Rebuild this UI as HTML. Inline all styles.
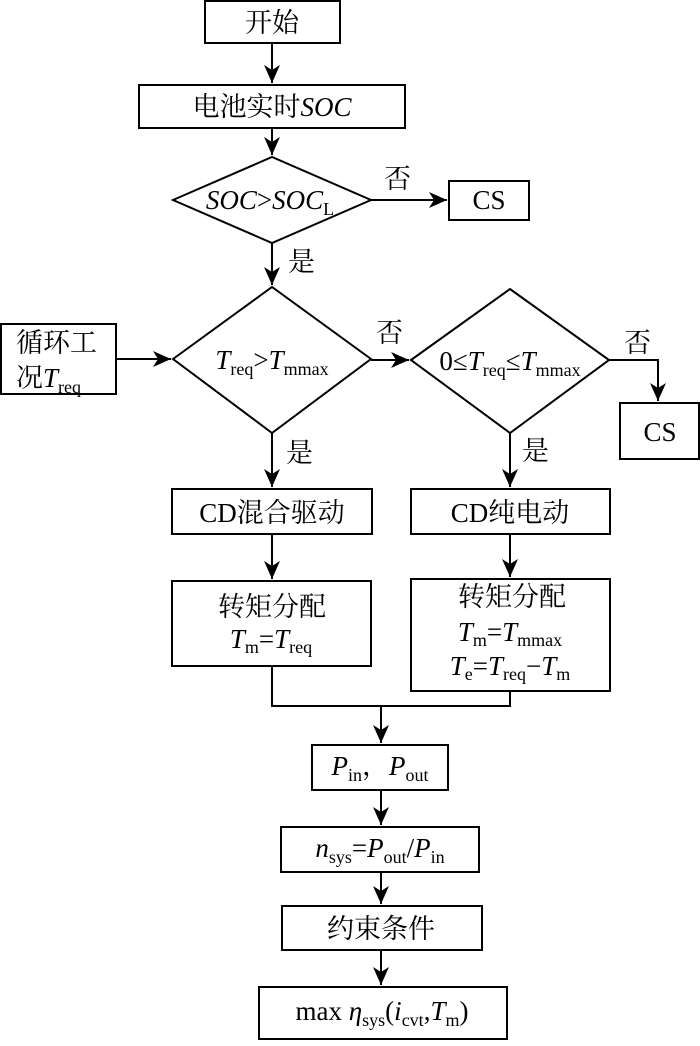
<!DOCTYPE html>
<html><head><meta charset="utf-8"><style>
html,body{margin:0;padding:0;background:#fff}
svg text{font-family:"Liberation Serif","Noto Serif CJK SC","Noto Sans CJK SC",serif;font-size:27px;fill:#000}
.i{font-style:italic}
.s{font-size:18px}
</style></head><body>
<svg width="700" height="1041" viewBox="0 0 700 1041" xmlns="http://www.w3.org/2000/svg">
<defs><marker id="a" markerWidth="20" markerHeight="20" refX="18" refY="8" orient="auto" markerUnits="userSpaceOnUse"><path d="M0,0 L18,8 L0,16 L5,8 Z" fill="#000"/></marker></defs>
<g fill="none" stroke="#000" stroke-width="2">
<rect x="205" y="1" width="135" height="42"/>
<rect x="139" y="85" width="266" height="43"/>
<polygon points="173,200 272,157 371,200 272,243"/>
<rect x="449" y="181" width="80" height="39"/>
<polygon points="173,359 272,287 371,359 272,433"/>
<rect x="1" y="324" width="115" height="70"/>
<polygon points="411,360 510,289 609,360 510,433"/>
<rect x="620" y="403" width="79" height="56"/>
<rect x="172" y="489" width="200" height="45"/>
<rect x="411" y="489" width="199" height="45"/>
<rect x="172" y="581" width="199" height="85"/>
<rect x="411" y="579" width="199" height="112"/>
<rect x="312" y="745" width="136" height="45"/>
<rect x="281" y="827" width="198" height="45"/>
<rect x="282" y="906" width="200" height="44"/>
<rect x="259" y="987" width="248" height="52"/>
<g marker-end="url(#a)">
<line x1="272" y1="43" x2="272" y2="83"/>
<line x1="272" y1="128" x2="272" y2="155"/>
<line x1="371" y1="200" x2="447" y2="200"/>
<line x1="272" y1="243" x2="272" y2="285"/>
<line x1="116" y1="359" x2="171" y2="359"/>
<line x1="371" y1="360" x2="409" y2="360"/>
<polyline points="609,360 658,360 658,401"/>
<line x1="272" y1="433" x2="272" y2="487"/>
<line x1="510" y1="433" x2="510" y2="487"/>
<line x1="272" y1="534" x2="272" y2="579"/>
<line x1="510" y1="534" x2="510" y2="577"/>
<line x1="381" y1="706" x2="381" y2="743"/>
<line x1="381" y1="790" x2="381" y2="825"/>
<line x1="381" y1="872" x2="381" y2="904"/>
<line x1="381" y1="950" x2="381" y2="985"/>
</g>
<polyline points="272,666 272,706 510,706 510,691"/>
</g>
<text x="272" y="32" text-anchor="middle">开始</text>
<text x="272" y="116" text-anchor="middle">电池实时<tspan class="i">SOC</tspan></text>
<text x="270" y="209" text-anchor="middle"><tspan class="i">SOC</tspan>&gt;<tspan class="i">SOC</tspan><tspan class="s" dy="6">L</tspan></text>
<text x="384" y="188">否</text>
<text x="489" y="209" text-anchor="middle">CS</text>
<text x="288" y="271">是</text>
<text x="16" y="352">循环工</text>
<text x="16" y="387">况<tspan class="i">T</tspan><tspan class="s" dy="6">req</tspan></text>
<text x="272" y="369" text-anchor="middle"><tspan class="i">T</tspan><tspan class="s" dy="6">req</tspan><tspan dy="-6">&gt;</tspan><tspan class="i">T</tspan><tspan class="s" dy="6">mmax</tspan></text>
<text x="376" y="342">否</text>
<text x="510" y="370" text-anchor="middle">0≤<tspan class="i">T</tspan><tspan class="s" dy="6">req</tspan><tspan dy="-6">≤</tspan><tspan class="i">T</tspan><tspan class="s" dy="6">mmax</tspan></text>
<text x="624" y="352">否</text>
<text x="660" y="441" text-anchor="middle">CS</text>
<text x="286" y="462">是</text>
<text x="522" y="460">是</text>
<text x="272" y="522" text-anchor="middle">CD混合驱动</text>
<text x="510" y="522" text-anchor="middle">CD纯电动</text>
<text x="272" y="616" text-anchor="middle">转矩分配</text>
<text x="271" y="648" text-anchor="middle"><tspan class="i">T</tspan><tspan class="s" dy="5">m</tspan><tspan dy="-5">=</tspan><tspan class="i">T</tspan><tspan class="s" dy="5">req</tspan></text>
<text x="512" y="606" text-anchor="middle">转矩分配</text>
<text x="510" y="641" text-anchor="middle"><tspan class="i">T</tspan><tspan class="s" dy="5">m</tspan><tspan dy="-5">=</tspan><tspan class="i">T</tspan><tspan class="s" dy="5">mmax</tspan></text>
<text x="510" y="675" text-anchor="middle"><tspan class="i">T</tspan><tspan class="s" dy="5">e</tspan><tspan dy="-5">=</tspan><tspan class="i">T</tspan><tspan class="s" dy="5">req</tspan><tspan dy="-5">−</tspan><tspan class="i">T</tspan><tspan class="s" dy="5">m</tspan></text>
<text x="380" y="775" text-anchor="middle"><tspan class="i">P</tspan><tspan class="s" dy="6">in</tspan><tspan dy="-6">，</tspan><tspan class="i">P</tspan><tspan class="s" dy="6">out</tspan></text>
<text x="380" y="857" text-anchor="middle"><tspan class="i">n</tspan><tspan class="s" dy="6">sys</tspan><tspan dy="-6">=</tspan><tspan class="i">P</tspan><tspan class="s" dy="6">out</tspan><tspan dy="-6">/</tspan><tspan class="i">P</tspan><tspan class="s" dy="6">in</tspan></text>
<text x="381" y="938" text-anchor="middle">约束条件</text>
<text x="382" y="1020" text-anchor="middle">max <tspan class="i">η</tspan><tspan class="s" dy="6">sys</tspan><tspan dy="-6">(</tspan><tspan class="i">i</tspan><tspan class="s" dy="6">cvt</tspan><tspan dy="-6">,</tspan><tspan class="i">T</tspan><tspan class="s" dy="6">m</tspan><tspan dy="-6">)</tspan></text>
</svg>
</body></html>
